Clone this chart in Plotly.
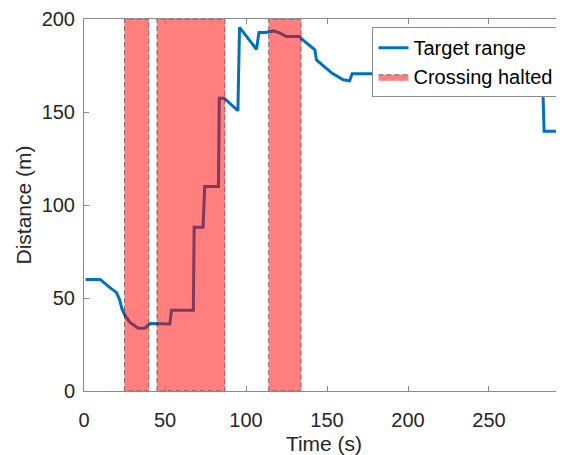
import plotly.graph_objects as go

# Target range line
time_s = [1, 10, 16, 20, 22, 23.5, 25.5, 28.5, 33.5, 37.5, 40, 41, 53, 54, 67.5, 68,
          73.5, 74.5, 83, 83.5, 86.5, 95, 96, 106.5, 108, 112, 117, 121, 125, 133,
          134.5, 142.5, 143.5, 153, 160, 164, 165.5, 283, 284, 297]
distance_m = [60, 60, 55.6, 53, 49, 44, 40.4, 36.8, 33.8, 33.8, 35.6, 36.3, 36, 43.4, 43.4, 88,
              88, 110, 110, 157.4, 157.4, 150.7, 195.5, 183.7, 192.8, 192.8, 193.6, 192.4, 190.6, 190.6,
              189.2, 183.4, 178, 170.9, 167.3, 166.8, 170.5, 170.5, 139.6, 139.6]

# Crossing halted intervals (start, end) in seconds
halt_start = [25, 45, 114]
halt_end = [40, 87, 134]

y_min, y_max = 0, 200
x_min, x_max = 0, 296.3
x_ticks = [0, 50, 100, 150, 200, 250]
y_ticks = [0, 50, 100, 150, 200]

rx, ry = [], []
for s, e in zip(halt_start, halt_end):
    rx += [s, s, e, e, s, None]
    ry += [y_min, y_max, y_max, y_min, y_min, None]

fig = go.Figure()
fig.add_trace(go.Scatter(
    x=time_s, y=distance_m, mode="lines", name="Target range",
    line=dict(color="#0072BD", width=3), cliponaxis=True))
fig.add_trace(go.Scatter(
    x=rx, y=ry, mode="lines", name="Crossing halted", fill="toself",
    fillcolor="rgba(255,0,0,0.5)",
    line=dict(color="rgba(0,0,0,0.45)", width=1, dash="5px,3px"),
    connectgaps=False))

axis_common = dict(
    showgrid=False, zeroline=False, showline=True, linecolor="#8a8a8a", linewidth=1,
    ticks="inside", ticklen=5, tickcolor="#8a8a8a",
    tickfont=dict(family="Liberation Sans, Arial, sans-serif", size=20, color="#262626"),
)

# The page body adds an 8px offset; the figure size/margins compensate for it.
fig.update_layout(
    width=556, height=447,
    margin=dict(l=76, r=0, t=11, b=64),
    paper_bgcolor="white", plot_bgcolor="white",
    font=dict(family="Liberation Sans, Arial, sans-serif", color="#262626"),
    xaxis=dict(range=[x_min, x_max], tickvals=x_ticks, mirror="ticks",
               ticklabelstandoff=11,
               title=dict(text="Time (s)", font=dict(size=21), standoff=7),
               **axis_common),
    yaxis=dict(range=[y_min, y_max], tickvals=y_ticks, mirror=False,
               ticklabelstandoff=4,
               title=dict(text="Distance (m)", font=dict(size=21), standoff=4),
               **axis_common),
    legend=dict(x=0.601, y=0.978, xanchor="left", yanchor="top",
                bgcolor="white", bordercolor="#8a8a8a", borderwidth=1,
                font=dict(size=20, color="black"), tracegroupgap=0),
    showlegend=True,
)

fig.write_html("out.html")
